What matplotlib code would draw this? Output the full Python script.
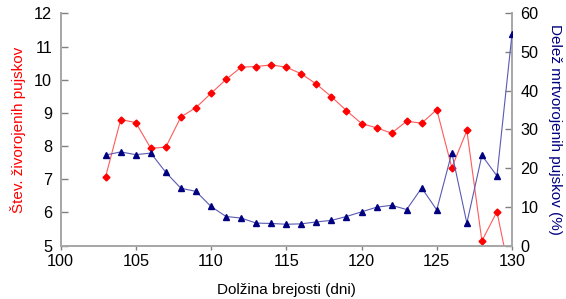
import matplotlib
matplotlib.use("Agg")
import matplotlib.pyplot as plt

plt.rcParams['font.family'] = ['Liberation Sans', 'DejaVu Sans']

days = list(range(103, 131))
live_born = [7.08, 8.80, 8.71, 7.93, 7.97, 8.88, 9.16, 9.59, 10.01, 10.38, 10.40, 10.45, 10.38, 10.18,
             9.87, 9.49, 9.07, 8.68, 8.55, 8.39, 8.75, 8.69, 9.10, 7.35, 8.47, 5.14, 6.02, 3.8]
stillborn_pct = [23.4, 24.2, 23.5, 23.9, 18.9, 14.8, 14.0, 10.1, 7.5, 7.1, 5.8, 5.7, 5.5, 5.6,
                 6.1, 6.5, 7.5, 8.7, 9.9, 10.4, 9.3, 14.9, 9.2, 24.0, 5.8, 23.3, 18.0, 54.7]

fig = plt.figure(figsize=(5.66, 2.99), dpi=100)
ax = fig.add_axes([0.1069, 0.1789, 0.7977, 0.776])
ax2 = ax.twinx()

ax.plot(days, live_born, color='#ff5a5a', lw=0.8, marker='D', ms=3.5,
        mfc='red', mec='red', zorder=3)
ax2.plot(days, stillborn_pct, color='#5a5ab4', lw=0.8, marker='^', ms=4.5,
         mfc='#000080', mec='#000080', zorder=3)

ax.set_xlim(100, 130)
ax.set_ylim(5, 12)
ax2.set_ylim(0, 60)
ax.set_xticks(range(100, 131, 5))
ax.set_yticks(range(5, 13))
ax2.set_yticks(range(0, 61, 10))

gray = '#a8a8a8'
for a in (ax, ax2):
    a.spines['top'].set_visible(False)
    for s in ('left', 'right', 'bottom'):
        a.spines[s].set_color(gray)
        a.spines[s].set_linewidth(1.3)
ax.tick_params(axis='y', direction='in', length=5, width=1, colors='#808080',
               labelcolor='black', labelsize=11.7, pad=6)
ax2.tick_params(axis='y', direction='in', length=5, width=1, colors='#808080',
                labelcolor='black', labelsize=11.7, pad=6)
ax.tick_params(axis='x', direction='out', length=3, width=1, colors='#808080',
               labelcolor='black', labelsize=11.7, pad=3)

ax.set_xlabel('Dolžina brejosti (dni)', fontsize=11, labelpad=10)
ax.set_ylabel('Štev. živorojenih pujskov', fontsize=11, color='red', labelpad=6)
ax2.set_ylabel('Delež mrtvorojenih pujskov (%)', fontsize=11, color='#000080',
               rotation=-90, labelpad=17)

fig.savefig('out.png', dpi=100)
